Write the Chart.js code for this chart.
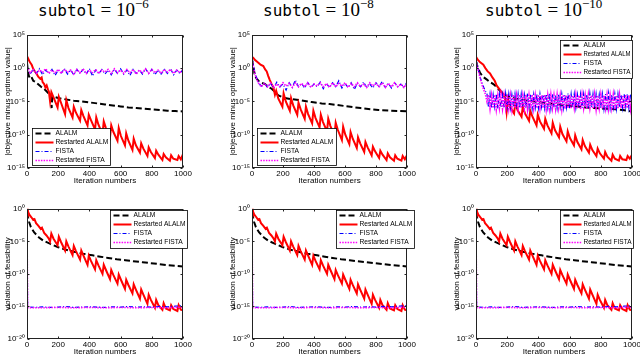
<!DOCTYPE html>
<html>
<head>
<meta charset="utf-8">
<script src="https://cdn.jsdelivr.net/npm/chart.js@4.4.1/dist/chart.umd.min.js"></script>
<style>
  body { margin: 0; background: #fff; width: 640px; height: 355px; overflow: hidden; position: relative; }
  canvas { position: absolute; }
  .ttl { position: absolute; top: 0; font: 19px/19px "Liberation Serif", serif; white-space: nowrap; color: #000; }
  .ttl .tt { font: 16px "DejaVu Sans Mono", monospace; }
  .ttl .sup { font-size: 13px; position: relative; top: -8px; }
</style>
</head>
<body>
<div class="ttl" style="left:38px"><span class="tt">subtol</span> = 10<span class="sup">−6</span></div>
<div class="ttl" style="left:263px"><span class="tt">subtol</span> = 10<span class="sup">−8</span></div>
<div class="ttl" style="left:485px"><span class="tt">subtol</span> = 10<span class="sup">−10</span></div>
<script>
// all series values are log10 of the plotted value
const seriesNames = ['ALALM', 'Restarted ALALM', 'FISTA', 'Restarted FISTA'];
const xTicks = [0, 200, 400, 600, 800, 1000];
const objTicks = [1e5, 1, 1e-5, 1e-10, 1e-15];
const feasTicks = [1, 1e-5, 1e-10, 1e-15, 1e-20];

const grid20 = [0,20,40,60,80,100,120,140,160,180,200,220,240,260,280,300,320,340,360,380,400,420,440,460,480,500,
  520,540,560,580,600,620,640,660,680,700,720,740,760,780,800,820,840,860,880,900,920,940,960,980,1000];
const grid10 = [0,10,20,30,40,50,60,70,80,90,100,110,120,130,140,150,160,170,180,190,200,210,220,230,240,250,
  260,270,280,290,300,310,320,330,340,350,360,370,380,390,400,410,420,430,440,450,460,470,480,490,500,
  510,520,530,540,550,560,570,580,590,600,610,620,630,640,650,660,670,680,690,700,710,720,730,740,750,
  760,770,780,790,800,810,820,830,840,850,860,870,880,890,900,910,920,930,940,950,960,970,980,990,1000];

// ---- subtol = 1e-6, objective gap ----
const obj6Alalm = [[0,0.8],[5,-0.3],[12,-1.2],[20,-1.5],[28,-1.3],[40,-1.9],[55,-2.1],[70,-2.4],[90,-2.8],
  [110,-3.1],[130,-3.6],[145,-4.0],[152,-4.6],[158,-6.0],[162,-4.3],[175,-4.3],[200,-4.5],[250,-4.7],[300,-4.9],
  [350,-5.0],[400,-5.15],[450,-5.3],[500,-5.45],[550,-5.6],[600,-5.75],[650,-5.9],[700,-6.0],[750,-6.1],
  [800,-6.2],[850,-6.3],[900,-6.4],[950,-6.45],[1000,-6.5]];
const obj6Ralalm = [[0,1.8],[8,1.4],[18,0.9],[30,0.5],[40,-0.1],[50,-0.5],[60,-0.8],[72,-1.3],[85,-1.6],[94,-1.4],
  [100,-2.1],[110,-2.4],[118,-2.9],[126,-2.6],[134,-3.2],[140,-3.5],
  [148,-5.0],[156,-3.6],[170,-4.4],[196,-5.9],[204,-4.3],[218,-5.2],[244,-6.9],[252,-4.8],[266,-6.0],
  [292,-7.4],[300,-5.8],[314,-6.7],[340,-7.9],[348,-6.3],[362,-7.2],[388,-8.6],[396,-7.0],[410,-7.8],
  [436,-9.2],[444,-7.4],[458,-8.5],[484,-9.9],[492,-8.0],[506,-9.0],[532,-10.4],[540,-8.6],[554,-9.6],
  [580,-10.9],[588,-9.0],[602,-10.2],[628,-11.6],[636,-9.8],[650,-10.9],[676,-12.3],[684,-10.6],[698,-11.6],
  [724,-12.7],[732,-11.3],[746,-12.1],[772,-13.2],[780,-11.9],[794,-12.6],[820,-13.5],[828,-12.4],[842,-13.0],
  [868,-13.8],[876,-12.9],[890,-13.4],[916,-13.9],[924,-13.1],[938,-13.6],[964,-13.8],[972,-13.2],[986,-13.7],
  [1000,-12.9]];
const obj6Fista = [0.3,-0.9,-0.2,-0.8,-0.1,-1.0,-0.3,-0.8,-0.2,-1.1,-0.3,-0.7,-0.1,-0.9,-0.3,-1.0,-0.2,-0.8,-0.2,-0.9,
  -0.1,-1.2,-0.3,-0.8,-0.2,-0.9,-0.3,-1.0,-0.2,-0.8,-0.1,-0.9,-0.3,-1.1,-0.2,-0.8,-0.3,-0.9,-0.1,-0.8,
  -0.2,-1.0,-0.3,-0.9,-0.2,-0.8,-0.1,-1.0,-0.3,-0.8,-0.2];
const obj6Rfista = [0.2,-0.7,-0.2,-0.8,-0.3,-0.6,-0.1,-0.8,-0.3,-0.7,-0.2,-0.8,-0.2,-0.6,-0.3,-0.9,-0.2,-0.7,-0.1,-0.8,
  -0.3,-0.7,-0.2,-0.8,-0.3,-0.6,-0.2,-0.8,-0.1,-0.7,-0.3,-0.8,-0.2,-0.7,-0.2,-0.9,-0.3,-0.7,-0.1,-0.8,
  -0.2,-0.7,-0.3,-0.8,-0.2,-0.6,-0.2,-0.8,-0.3,-0.7,-0.2];

// ---- subtol = 1e-8, objective gap ----
const obj8Alalm = [[0,1.3],[8,0.3],[19,-1.2],[30,-1.6],[41,-1.9],[60,-2.2],[84,-2.4],[105,-2.8],[127,-3.1],
  [150,-3.6],[170,-4.1],[190,-4.3],[213,-4.5],[250,-4.65],[300,-4.8],[385,-5.1],[450,-5.3],[500,-5.4],
  [600,-5.7],[700,-6.0],[815,-6.3],[900,-6.4],[1000,-6.5]];
const obj8Ralalm = [[0,1.7],[10,1.5],[20,1.2],[41,0.8],[55,0.5],[73,0.3],[85,-0.2],[95,-0.5],[105,-1.2],[115,-1.8],
  [127,-2.4],[138,-2.9],[148,-4.0],[156,-3.4],[170,-4.6],[196,-5.8],[204,-3.8],[218,-5.0],[244,-6.4],[252,-4.5],
  [266,-5.6],[292,-7.0],[300,-5.2],[314,-6.2],[340,-7.6],[348,-5.8],[362,-6.9],[388,-8.3],[396,-6.4],[410,-7.5],
  [436,-8.9],[444,-7.0],[458,-8.1],[484,-9.5],[492,-7.6],[506,-8.7],[532,-10.1],[540,-8.2],[554,-9.3],
  [580,-10.8],[588,-8.8],[602,-10.0],[628,-11.4],[636,-9.6],[650,-10.6],[676,-12.0],[684,-10.4],[698,-11.3],
  [724,-12.6],[732,-11.1],[746,-11.9],[772,-13.1],[780,-11.8],[794,-12.5],[820,-13.5],[828,-12.4],[842,-13.0],
  [868,-13.8],[876,-12.8],[890,-13.4],[916,-13.9],[924,-13.1],[938,-13.6],[964,-13.9],[972,-13.2],[986,-13.7],
  [1000,-13.1]];
const obj8Fista = [1.5,-0.8,-2.1,-2.7,
  -2.2,-2.9,-2.3,-3.0,-2.1,-2.8,-2.4,-3.3,-2.2,-2.9,-1.8,-2.8,-2.3,-3.0,-2.2,-2.9,-2.4,-2.8,-2.1,-3.1,
  -2.3,-2.9,-2.2,-2.8,-1.9,-3.0,-2.3,-2.9,-2.2,-3.2,-2.3,-2.8,-2.1,-2.9,-2.4,-3.0,-2.2,-2.8,-2.0,-2.9,
  -2.3,-3.0,-2.2,-2.8,-2.4,-2.9,-2.1];
const obj8Rfista = [1.3,-1.0,-2.2,-2.8,
  -2.3,-2.8,-2.2,-2.9,-2.4,-2.8,-2.2,-2.7,-2.3,-2.9,-2.2,-2.8,-2.3,-2.8,-2.2,-2.9,-2.4,-2.7,-2.2,-2.8,
  -2.3,-2.9,-2.2,-2.8,-2.3,-2.7,-2.2,-2.9,-2.3,-2.8,-2.2,-2.8,-2.4,-2.9,-2.2,-2.7,-2.3,-2.8,-2.2,-2.9,
  -2.3,-2.8,-2.2,-2.8,-2.4,-2.9,-2.3];

// ---- subtol = 1e-10, objective gap ----
const obj10Alalm = [[0,1.0],[10,0.2],[26,-0.7],[45,-1.3],[68,-1.7],[90,-2.1],[111,-2.4],[130,-2.8],[154,-3.4],
  [175,-3.9],[200,-4.2],[250,-4.6],[300,-4.8],[400,-5.1],[500,-5.4],[600,-5.65],[700,-5.9],[800,-6.05],
  [880,-6.15],[940,-6.3],[1000,-6.5]];
const obj10Ralalm = [[0,1.7],[10,1.3],[25,0.9],[47,0.5],[60,0.0],[75,-0.5],[90,-0.8],[105,-1.4],[120,-1.9],
  [132,-2.6],[145,-3.0],[160,-3.5],[175,-3.9],[186,-4.5],[196,-6.6],[204,-4.6],[218,-5.8],[244,-6.8],[252,-5.2],
  [266,-6.3],[292,-7.3],[300,-5.8],[314,-6.8],[340,-7.9],[348,-6.4],[362,-7.3],[388,-8.6],[396,-7.0],[410,-8.0],
  [436,-9.1],[444,-7.6],[458,-8.6],[484,-9.8],[492,-8.2],[506,-9.3],[532,-10.4],[540,-8.8],[554,-9.9],
  [580,-11.0],[588,-9.5],[602,-10.5],[628,-11.6],[636,-10.1],[650,-11.1],[676,-12.2],[684,-10.8],[698,-11.7],
  [724,-12.7],[732,-11.5],[746,-12.3],[772,-13.2],[780,-12.1],[794,-12.8],[820,-13.6],[828,-12.6],[842,-13.3],
  [868,-13.9],[876,-13.0],[890,-13.6],[916,-13.9],[924,-13.2],[938,-13.7],[964,-13.8],[972,-13.2],[986,-13.6],
  [1000,-13.0]];
const obj10Fista = [1.3,0.3,-0.7,-1.6,-2.3,-2.9,-3.4,-3.8,
  -5.9,-3.9,-6.0,-4.0,-5.8,-3.9,-6.1,-3.9,-5.9,-4.0,-6.0,-3.8,-5.9,-3.9,-6.0,-4.0,-5.8,-3.9,-6.1,-3.9,
  -6.0,-3.9,-5.9,-4.0,-6.0,-3.8,-5.9,-3.9,-6.1,-4.0,-5.9,-3.9,-6.0,-3.9,-5.8,-4.0,-6.0,-3.9,-5.9,-3.8,
  -6.1,-3.9,-5.9,-4.0,-6.0,-3.9,-5.8,-3.9,-6.0,-4.0,-5.9,-3.8,-6.1,-3.9,-5.9,-3.9,-6.0,-4.0,-5.9,-3.9,
  -6.0,-3.9,-5.8,-4.0,-6.1,-3.8,-5.9,-3.9,-6.0,-3.9,-5.9,-4.0,-6.0,-3.9,-6.1,-3.9,-5.9,-3.8,-6.0,-4.0,
  -5.9,-3.9,-6.1,-3.9,-5.9,-4.0,-6.0,-3.9,-5.8,-3.9,-6.0,-3.9,-5.9];
const obj10Rfista = [1.0,0.0,-0.9,-1.8,-2.6,-3.3,-3.9,-5.0,
  -4.0,-6.1,-4.1,-6.0,-4.0,-6.2,-4.1,-6.0,-4.0,-6.1,-4.1,-6.0,-4.0,-6.1,-4.1,-6.2,-4.0,-6.0,-4.1,-6.1,
  -4.0,-6.0,-4.1,-6.1,-4.0,-6.2,-4.1,-6.0,-4.0,-6.1,-4.1,-6.0,-4.0,-6.1,-4.1,-6.0,-4.0,-6.2,-4.1,-6.1,
  -4.0,-6.0,-4.1,-6.1,-4.0,-6.0,-4.1,-6.2,-4.0,-6.1,-4.1,-6.0,-4.0,-6.1,-4.1,-6.0,-4.0,-6.1,-4.1,-6.2,
  -4.0,-6.0,-4.1,-6.1,-4.0,-6.0,-4.1,-6.1,-4.0,-6.2,-4.1,-6.0,-4.0,-6.1,-4.1,-6.0,-4.0,-6.1,-4.1,-6.0,
  -4.0,-6.2,-4.1,-6.1,-4.0,-6.0,-4.1,-6.1,-4.0,-6.0,-4.1,-6.1,-4.0];

// ---- feasibility violation (the three subtol runs look the same) ----
const feasAlalm = [[0,-0.6],[5,-1.1],[13,-2.0],[25,-2.8],[45,-3.6],[77,-4.4],[105,-4.9],[150,-5.4],[200,-5.9],
  [250,-6.3],[300,-6.6],[360,-6.9],[420,-7.15],[470,-7.35],[520,-7.55],[575,-7.75],[630,-7.9],[680,-8.05],
  [740,-8.2],[790,-8.35],[850,-8.5],[900,-8.65],[950,-8.75],[1000,-8.85]];
const feasRalalm = [[0,0.1],[6,-0.4],[15,-0.9],[28,-1.3],[40,-1.7],[48,-1.6],[58,-2.2],[72,-2.6],[88,-3.1],[96,-2.9],
  [110,-3.7],[125,-4.1],[140,-4.6],[148,-5.0],[156,-3.8],[170,-4.6],[196,-5.6],[204,-4.3],[218,-5.1],
  [244,-6.4],[252,-5.0],[266,-5.8],[292,-7.1],[300,-5.7],[314,-6.5],[340,-7.8],[348,-6.4],[362,-7.2],
  [388,-8.6],[396,-7.2],[410,-8.0],[436,-9.3],[444,-7.9],[458,-8.7],[484,-10.0],[492,-8.6],[506,-9.4],
  [532,-10.8],[540,-9.4],[554,-10.2],[580,-11.5],[588,-10.1],[602,-10.9],[628,-12.3],[636,-10.9],[650,-11.7],
  [676,-13.0],[684,-11.6],[698,-12.4],[724,-13.8],[732,-12.4],[746,-13.2],[772,-14.6],[780,-13.2],[794,-14.0],
  [820,-15.2],[828,-14.0],[842,-14.8],[868,-15.5],[876,-14.5],[890,-15.3],[916,-15.6],[924,-14.8],[938,-15.4],
  [964,-15.7],[972,-14.8],[986,-15.5],[1000,-15.6]];
const feasFista = [[0,-0.3],[2,-8],[4,-15.1],[50,-15.15],[100,-15.05],[150,-15.15],[200,-15.1],[250,-15.0],
  [300,-15.15],[350,-15.1],[400,-15.05],[450,-15.1],[500,-15.15],[550,-15.05],[600,-15.1],[650,-15.0],
  [700,-15.1],[750,-15.05],[800,-15.1],[850,-15.0],[900,-15.05],[950,-14.95],[1000,-14.9]];
const feasRfista = [[0,-0.6],[2,-9],[4,-15.2],[100,-15.2],[200,-15.15],[300,-15.2],[400,-15.15],[500,-15.2],
  [600,-15.15],[700,-15.2],[800,-15.15],[900,-15.2],[1000,-15.1]];

const fromPairs = pairs => pairs.map(([it, e]) => ({ x: it, y: Math.pow(10, e) }));
const onGrid = (grid, exps) => exps.map((e, i) => ({ x: grid[i], y: Math.pow(10, e) }));

const supMap = { '0': '⁰', '1': '¹', '2': '²', '3': '³', '4': '⁴', '5': '⁵', '6': '⁶', '7': '⁷', '8': '⁸', '9': '⁹', '-': '⁻' };
function powLabel(v) {
  const e = Math.round(Math.log10(v));
  return '10' + String(e).split('').map(c => supMap[c]).join('');
}

const styles = [
  { color: '#000000', width: 2, dash: [6, 3] },
  { color: '#ff0000', width: 2, dash: [] },
  { color: '#0000ff', width: 1.2, dash: [4, 2, 1, 2] },
  { color: '#ff00ff', width: 1.6, dash: [1.5, 1.2] }
];

// box around the axes with small inward ticks, like the matlab original
const framePlugin = {
  id: 'frame',
  afterDatasetsDraw(chart) {
    const { ctx, chartArea: a, scales } = chart;
    const l = Math.round(a.left) + 0.5, r = Math.round(a.right) - 0.5;
    const t = Math.round(a.top) + 0.5, b = Math.round(a.bottom) - 0.5;
    ctx.save();
    ctx.strokeStyle = '#222';
    ctx.lineWidth = 1;
    ctx.setLineDash([]);
    ctx.strokeRect(l, t, r - l, b - t);
    ctx.beginPath();
    scales.x.ticks.forEach(tk => {
      const px = Math.round(scales.x.getPixelForValue(tk.value)) + 0.5;
      ctx.moveTo(px, b); ctx.lineTo(px, b - 2);
      ctx.moveTo(px, t); ctx.lineTo(px, t + 2);
    });
    scales.y.ticks.forEach(tk => {
      const py = Math.round(scales.y.getPixelForValue(tk.value)) + 0.5;
      ctx.moveTo(l, py); ctx.lineTo(l + 2, py);
      ctx.moveTo(r, py); ctx.lineTo(r - 2, py);
    });
    ctx.stroke();
    ctx.restore();
  }
};

const legendPlugin = {
  id: 'boxLegend',
  afterDraw(chart, args, opts) {
    const { ctx, chartArea: a } = chart;
    const x = Math.round(a.left + opts.dx) + 0.5, y = Math.round(a.top + opts.dy) + 0.5;
    ctx.save();
    ctx.fillStyle = '#fff';
    ctx.fillRect(x, y, opts.w, opts.h);
    ctx.strokeStyle = '#000';
    ctx.lineWidth = 0.8;
    ctx.setLineDash([]);
    ctx.strokeRect(x, y, opts.w, opts.h);
    ctx.font = '6.7px "Liberation Sans", Arial, sans-serif';
    ctx.textBaseline = 'middle';
    seriesNames.forEach((name, i) => {
      const cy = y + 5 + i * 9;
      const s = styles[i];
      ctx.beginPath();
      ctx.strokeStyle = s.color;
      ctx.lineWidth = s.width;
      ctx.setLineDash(s.dash);
      ctx.moveTo(x + 3, cy);
      ctx.lineTo(x + 21, cy);
      ctx.stroke();
      ctx.fillStyle = '#000';
      ctx.fillText(name, x + 23, cy, opts.w - 25);
    });
    ctx.restore();
  }
};

const objTitle = '|objective minus optimal value|';
const feasTitle = 'violation of feasibility';

const panels = [
  { left: 27, top: 33, w: 156, h: 135, min: 1e-15, max: 1e5, yt: objTicks, title: objTitle, legend: [5, 93, 78, 37],
    series: [fromPairs(obj6Alalm), fromPairs(obj6Ralalm), onGrid(grid20, obj6Fista), onGrid(grid20, obj6Rfista)] },
  { left: 252, top: 33, w: 155, h: 135, min: 1e-15, max: 1e5, yt: objTicks, title: objTitle, legend: [5, 93, 79, 37],
    series: [fromPairs(obj8Alalm), fromPairs(obj8Ralalm), onGrid(grid20, obj8Fista), onGrid(grid20, obj8Rfista)] },
  { left: 476, top: 33, w: 156, h: 135, min: 1e-15, max: 1e5, yt: objTicks, title: objTitle, legend: [84, 5, 72, 38],
    series: [fromPairs(obj10Alalm), fromPairs(obj10Ralalm), onGrid(grid10, obj10Fista), onGrid(grid10, obj10Rfista)] },
  { left: 27, top: 207, w: 156, h: 132, min: 1e-20, max: 1, yt: feasTicks, title: feasTitle, legend: [83, 1, 77, 38],
    series: [fromPairs(feasAlalm), fromPairs(feasRalalm), fromPairs(feasFista), fromPairs(feasRfista)] },
  { left: 252, top: 207, w: 155, h: 132, min: 1e-20, max: 1, yt: feasTicks, title: feasTitle, legend: [84, 1, 78, 38],
    series: [fromPairs(feasAlalm), fromPairs(feasRalalm), fromPairs(feasFista), fromPairs(feasRfista)] },
  { left: 476, top: 207, w: 156, h: 132, min: 1e-20, max: 1, yt: feasTicks, title: feasTitle, legend: [84, 1, 73, 38],
    series: [fromPairs(feasAlalm), fromPairs(feasRalalm), fromPairs(feasFista), fromPairs(feasRfista)] }
];

const tickFont = { family: '"Liberation Sans", Arial, sans-serif', size: 8 };

panels.forEach(p => {
  const cv = document.createElement('canvas');
  cv.width = 27 + p.w + 10;
  cv.height = 5 + p.h + 20;
  cv.style.left = (p.left - 27) + 'px';
  cv.style.top = (p.top - 5) + 'px';
  document.body.appendChild(cv);

  new Chart(cv, {
    type: 'line',
    data: {
      datasets: p.series.map((pts, i) => ({
        label: seriesNames[i],
        data: pts,
        borderColor: styles[i].color,
        borderWidth: styles[i].width,
        borderDash: styles[i].dash,
        pointRadius: 0,
        tension: 0,
        fill: false,
        order: 3 - i
      }))
    },
    options: {
      responsive: false,
      animation: false,
      events: [],
      layout: { padding: { top: 5, right: 10, left: 0, bottom: 0 } },
      plugins: {
        legend: { display: false },
        tooltip: { enabled: false },
        boxLegend: { dx: p.legend[0], dy: p.legend[1], w: p.legend[2], h: p.legend[3] }
      },
      scales: {
        x: {
          type: 'linear', min: 0, max: 1000,
          afterBuildTicks: s => { s.ticks = xTicks.map(v => ({ value: v })); },
          ticks: { font: tickFont, color: '#000', padding: 1, maxRotation: 0, autoSkip: false, callback: v => String(v) },
          grid: { display: false, drawTicks: false },
          border: { display: false },
          title: { display: true, text: 'Iteration numbers', font: tickFont, color: '#000', padding: { top: 0, bottom: 2 } },
          afterFit: s => { s.height = 20; }
        },
        y: {
          type: 'logarithmic', min: p.min, max: p.max,
          afterBuildTicks: s => { s.ticks = p.yt.map(v => ({ value: v })); },
          ticks: { font: tickFont, color: '#000', padding: 2, autoSkip: false, callback: v => powLabel(v) },
          grid: { display: false, drawTicks: false },
          border: { display: false },
          title: { display: true, text: p.title, font: tickFont, color: '#000', padding: { top: 3, bottom: 0 } },
          afterFit: s => { s.width = 27; }
        }
      }
    },
    plugins: [framePlugin, legendPlugin]
  });
});
</script>
</body>
</html>
